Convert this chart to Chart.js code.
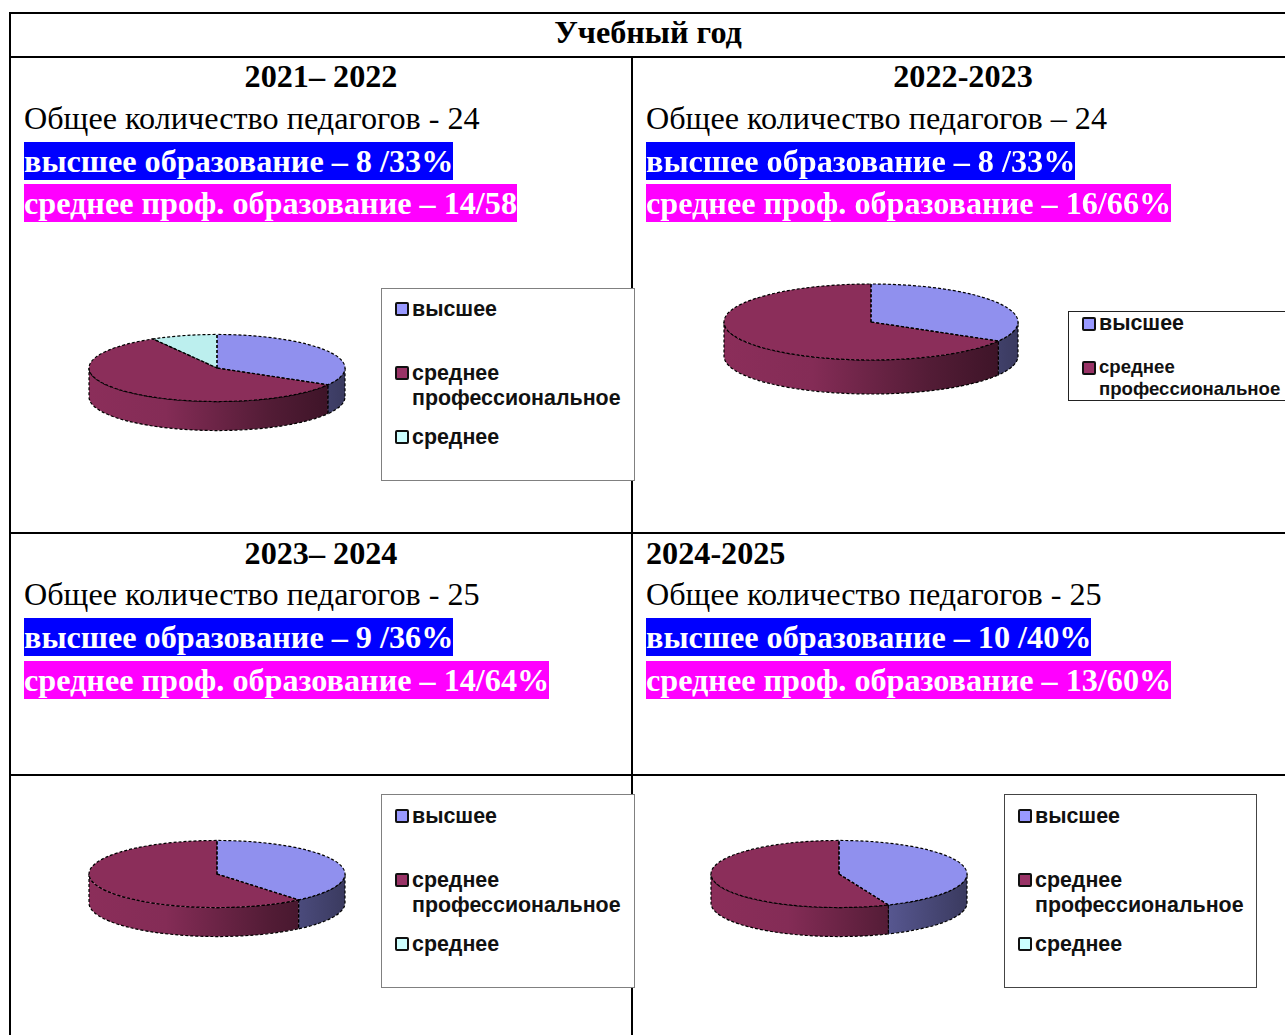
<!DOCTYPE html>
<html lang="ru">
<head>
<meta charset="utf-8">
<title>Учебный год</title>
<script src="https://cdn.jsdelivr.net/npm/chart.js@4"></script>
<style>
    html, body { margin: 0; padding: 0; background: #fff; }
    #page { position: relative; width: 1285px; height: 1035px; overflow: hidden; font-family: "Liberation Serif", serif; color: #000; }
    .line { position: absolute; background: #000; }
    .txt { position: absolute; white-space: nowrap; font-size: 32.2px; line-height: 38px; height: 38px; }
    .year { font-weight: bold; }
    .hi { font-weight: bold; color: #fff; background: #0000ff; }
    .mid { font-weight: bold; color: #fff; background: #ff00ff; }
    .legend { position: absolute; box-sizing: border-box; background: #fff; font-family: "Liberation Sans", sans-serif; font-weight: bold; color: #111; }
    .legend .item { position: absolute; white-space: pre; }
    .legend .sw { position: absolute; box-sizing: border-box; border: 2px solid #111; border-radius: 2px; }
    canvas { position: absolute; filter: blur(0.5px); }
</style>
</head>
<body>
<div id="page"></div>
<script>
// values
const labels = ['высшее', 'среднее профессиональное', 'среднее']
const higher = [8, 8, 39, 43.7]
const professional = [14, 16, 61, 56.3]
const secondary = [2, 0, 0, 0]

const tableTitle = 'Учебный год'
const years = ['2021– 2022', '2022-2023', '2023– 2024', '2024-2025']
const totals = ['Общее количество педагогов - 24', 'Общее количество педагогов – 24', 'Общее количество педагогов - 25', 'Общее количество педагогов - 25']
const higherLines = ['высшее образование – 8 /33%', 'высшее образование – 8 /33%', 'высшее образование – 9 /36%', 'высшее образование – 10 /40%']
const middleLines = ['среднее проф. образование – 14/58', 'среднее проф. образование – 16/66%', 'среднее проф. образование – 14/64%', 'среднее проф. образование – 13/60%']

const topColors = ['#9090ee', '#8b2e5a', '#bcefee']
const swatchColors = ['#9999ff', '#993366', '#ccffff']

// layout of the four panels
const textX = [24, 646, 24, 646]
const yearX = [321, 963, 321, null]
const textY = [[57, 99, 142, 184], [57, 99, 142, 184], [534, 575, 618, 661], [534, 575, 618, 661]]
const pies = [
    { cx: 217, cy: 367.5, r: 128, k: 0.262, depth: 29 },
    { cx: 871, cy: 322, r: 147, k: 0.2585, depth: 34 },
    { cx: 217, cy: 873.5, r: 128, k: 0.262, depth: 29 },
    { cx: 839, cy: 873.5, r: 128, k: 0.262, depth: 29 }
]
const legends = [
    { x: 381, y: 288, w: 254, h: 193, font: 21.4, firstFont: 21.4, items: 3, border: '#808080', rows: [8, 72, 136], sx: 13, tx: 30, wrap: 25, size: 14 },
    { x: 1068, y: 311, w: 240, h: 90, font: 18.6, firstFont: 21.4, items: 2, border: '#222', rows: [0, 44, 0], sx: 13, tx: 30, wrap: 22, size: 14 },
    { x: 381, y: 794, w: 254, h: 194, font: 21.4, firstFont: 21.4, items: 3, border: '#808080', rows: [9, 73, 137], sx: 13, tx: 30, wrap: 25, size: 14 },
    { x: 1004, y: 794, w: 253, h: 194, font: 21.4, firstFont: 21.4, items: 3, border: '#444', rows: [9, 73, 137], sx: 13, tx: 30, wrap: 25, size: 14 }
]

const page = document.getElementById('page')

function addLine(x, y, w, h) {
    let d = document.createElement('div')
    d.className = 'line'
    d.style.cssText = `left:${x}px;top:${y}px;width:${w}px;height:${h}px`
    page.appendChild(d)
}

function addText(text, cls, x, y, center) {
    let d = document.createElement('div')
    d.className = 'txt ' + cls
    d.textContent = text
    d.style.left = x + 'px'
    d.style.top = y + 'px'
    if (center) d.style.transform = 'translateX(-50%)'
    page.appendChild(d)
}

// darken a colour, used for the side wall of the pie
function shade(hex, f) {
    let n = parseInt(hex.slice(1), 16)
    let c = [n >> 16, (n >> 8) & 255, n & 255].map(v => Math.round(v * f))
    return `rgb(${c[0]},${c[1]},${c[2]})`
}

// flattens the pie and adds the 3d wall under it
const pie3d = {
    id: 'pie3d',
    beforeDatasetsDraw(chart, args, opts) {
        let ctx = chart.ctx
        let arcs = chart.getDatasetMeta(0).data
        let { x, y, outerRadius } = arcs[0].getProps(['x', 'y', 'outerRadius'], true)
        let ry = outerRadius * opts.k
        arcs.forEach((arc, i) => {
            let { startAngle, endAngle } = arc.getProps(['startAngle', 'endAngle'], true)
            let from = Math.max(startAngle, 0)
            let to = Math.min(endAngle, Math.PI)
            if (to <= from) return
            let base = topColors[i]
            let grad = ctx.createLinearGradient(x - outerRadius, 0, x + outerRadius, 0)
            grad.addColorStop(0, shade(base, 1))
            grad.addColorStop(0.3, shade(base, 0.95))
            grad.addColorStop(0.7, shade(base, 0.6))
            grad.addColorStop(1, shade(base, 0.4))
            ctx.beginPath()
            ctx.ellipse(x, y, outerRadius, ry, 0, from, to)
            ctx.ellipse(x, y + opts.depth, outerRadius, ry, 0, to, from, true)
            ctx.closePath()
            ctx.fillStyle = grad
            ctx.fill()
            ctx.strokeStyle = '#000'
            ctx.lineWidth = 1.2
            ctx.setLineDash([3, 2])
            ctx.stroke()
            ctx.setLineDash([])
        })
        ctx.save()
        ctx.translate(x, y)
        ctx.scale(1, opts.k)
        ctx.translate(-x, -y)
    },
    afterDatasetsDraw(chart, args, opts) {
        let ctx = chart.ctx
        ctx.restore()
        let arcs = chart.getDatasetMeta(0).data
        arcs.forEach(arc => {
            let { x, y, outerRadius, startAngle, endAngle } = arc.getProps(['x', 'y', 'outerRadius', 'startAngle', 'endAngle'], true)
            if (endAngle - startAngle <= 0) return
            ctx.beginPath()
            ctx.moveTo(x, y)
            ctx.ellipse(x, y, outerRadius, outerRadius * opts.k, 0, startAngle, endAngle)
            ctx.closePath()
            ctx.strokeStyle = '#000'
            ctx.lineWidth = 1.2
            ctx.setLineDash([3, 2])
            ctx.stroke()
            ctx.setLineDash([])
        })
    }
}

function drawPie(i) {
    let p = pies[i]
    let side = 2 * p.r + 20
    let canvas = document.createElement('canvas')
    canvas.width = side
    canvas.height = side
    canvas.style.cssText = `left:${p.cx - side / 2}px;top:${p.cy - side / 2}px;width:${side}px;height:${side}px`
    page.appendChild(canvas)
    new Chart(canvas.getContext('2d'), {
        type: 'pie',
        data: {
            labels: labels,
            datasets: [{
                data: [higher[i], professional[i], secondary[i]],
                backgroundColor: topColors,
                borderWidth: 0
            }]
        },
        options: {
            responsive: false,
            animation: false,
            radius: p.r,
            plugins: {
                legend: { display: false },
                tooltip: { enabled: false },
                pie3d: { k: p.k, depth: p.depth }
            }
        },
        plugins: [pie3d]
    })
}

function drawLegend(i) {
    let l = legends[i]
    let box = document.createElement('div')
    box.className = 'legend'
    box.style.cssText = `left:${l.x}px;top:${l.y}px;width:${l.w}px;height:${l.h}px;font-size:${l.font}px;line-height:${l.wrap}px;border:1px solid ${l.border}`
    for (let n = 0; n < l.items; n++) {
        let sw = document.createElement('div')
        sw.className = 'sw'
        sw.style.cssText = `left:${l.sx}px;top:${l.rows[n] + 5}px;width:${l.size}px;height:${l.size}px;background:${swatchColors[n]}`
        box.appendChild(sw)
        let item = document.createElement('div')
        item.className = 'item'
        item.textContent = labels[n].replace(' ', '\n')
        item.style.left = l.tx + 'px'
        item.style.top = l.rows[n] + 'px'
        if (n === 0) item.style.fontSize = l.firstFont + 'px'
        box.appendChild(item)
    }
    page.appendChild(box)
}

// table grid
addLine(9, 12, 1276, 2)
addLine(9, 12, 2, 1023)
addLine(9, 56, 1276, 2)
addLine(631, 57, 2, 978)
addLine(9, 532, 1276, 2)
addLine(9, 774, 1276, 2)

addText(tableTitle, 'year', 648, 13, true)

for (let i = 0; i < 4; i++) {
    drawPie(i)
    drawLegend(i)
    let y = textY[i]
    if (yearX[i] === null) addText(years[i], 'year', textX[i], y[0])
    else addText(years[i], 'year', yearX[i], y[0], true)
    addText(totals[i], '', textX[i], y[1])
    addText(higherLines[i], 'hi', textX[i], y[2])
    addText(middleLines[i], 'mid', textX[i], y[3])
}
</script>
</body>
</html>
